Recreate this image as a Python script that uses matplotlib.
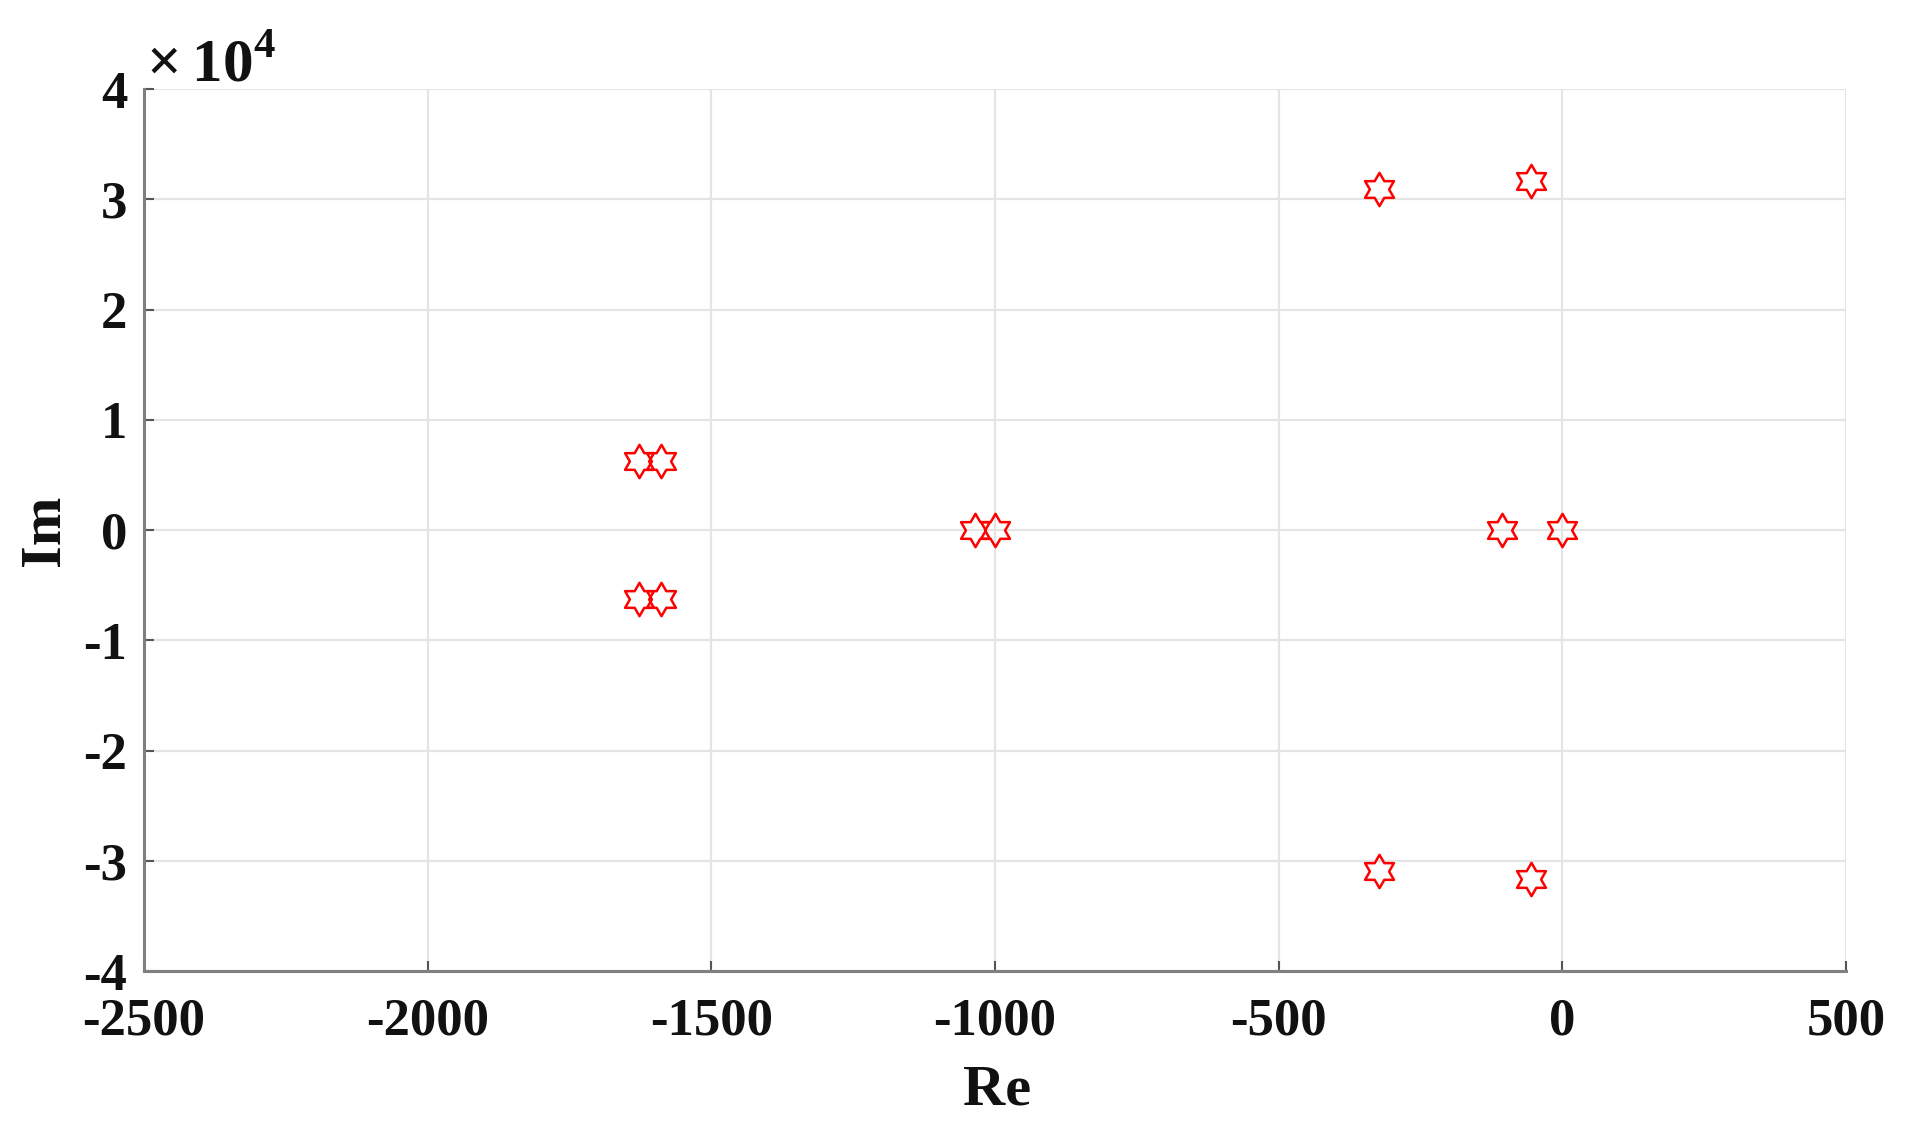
import numpy as np
import matplotlib
matplotlib.use("Agg")
import matplotlib.pyplot as plt
from matplotlib.path import Path
from matplotlib.ticker import FuncFormatter

# Pole locations (Re, Im)
re_vals = [-1628, -1588, -1628, -1588, -1035, -1000, -107, 0, -324, -55, -324, -55]
im_vals = [6300, 6300, -6300, -6300, 0, 0, 0, 0, 30900, 31700, -30900, -31700]

x_ticks = [-2500, -2000, -1500, -1000, -500, 0, 500]
y_ticks = [-40000, -30000, -20000, -10000, 0, 10000, 20000, 30000, 40000]

plt.rcParams['font.family'] = ['Liberation Serif', 'DejaVu Serif']
plt.rcParams['font.weight'] = 'bold'
plt.rcParams['mathtext.fontset'] = 'custom'
plt.rcParams['mathtext.rm'] = 'Liberation Serif'
plt.rcParams['mathtext.bf'] = 'Liberation Serif:bold'

fig = plt.figure(figsize=(19.06, 11.39), dpi=100)
ax = fig.add_axes([144/1906, 1-971/1139, (1846-144)/1906, (971-89)/1139])

hexagram = Path.unit_regular_star(6, 0.577)
ax.plot(re_vals, im_vals, linestyle='none', marker=hexagram, markersize=24,
        markerfacecolor='none', markeredgecolor='#ff0000', markeredgewidth=1.8, zorder=3)

ax.set_xlim(-2500, 500)
ax.set_ylim(-40000, 40000)
ax.set_xticks(x_ticks)
ax.set_yticks(y_ticks)
ax.yaxis.set_major_formatter(FuncFormatter(lambda v, p: f"{v/1e4:g}"))
ax.xaxis.set_major_formatter(FuncFormatter(lambda v, p: f"{v:g}"))

ax.grid(True, color='#e4e4e4', linewidth=1.6)
ax.set_axisbelow(True)
for s in ['top', 'right']:
    ax.spines[s].set_visible(False)
for s in ['left', 'bottom']:
    ax.spines[s].set_color('#7f7f7f')
    ax.spines[s].set_linewidth(2.2)

ax.tick_params(axis='both', direction='in', length=7, width=1.5, color='#555555',
               labelsize=38, labelcolor='#111111')
ax.tick_params(axis='x', pad=19)
ax.tick_params(axis='y', pad=12)
for lab in ax.get_xticklabels() + ax.get_yticklabels():
    lab.set_fontweight('bold')

ax.set_xlabel('Re', fontsize=42, fontweight='bold', color='#111111')
ax.xaxis.set_label_coords(0.501, -0.136)
ax.xaxis.label.set_va('center')
ax.set_ylabel('Im', fontsize=42, fontweight='bold', color='#111111')
ax.yaxis.set_label_coords(-0.058, 0.5)
ax.yaxis.label.set_va('center')

fig.text(146/1906, 1-66/1139, r'$\times\,\mathbf{10}^{\mathbf{4}}$', fontsize=44,
         ha='left', va='center', color='#111111')

fig.savefig('out.png', dpi=100, facecolor='white')
